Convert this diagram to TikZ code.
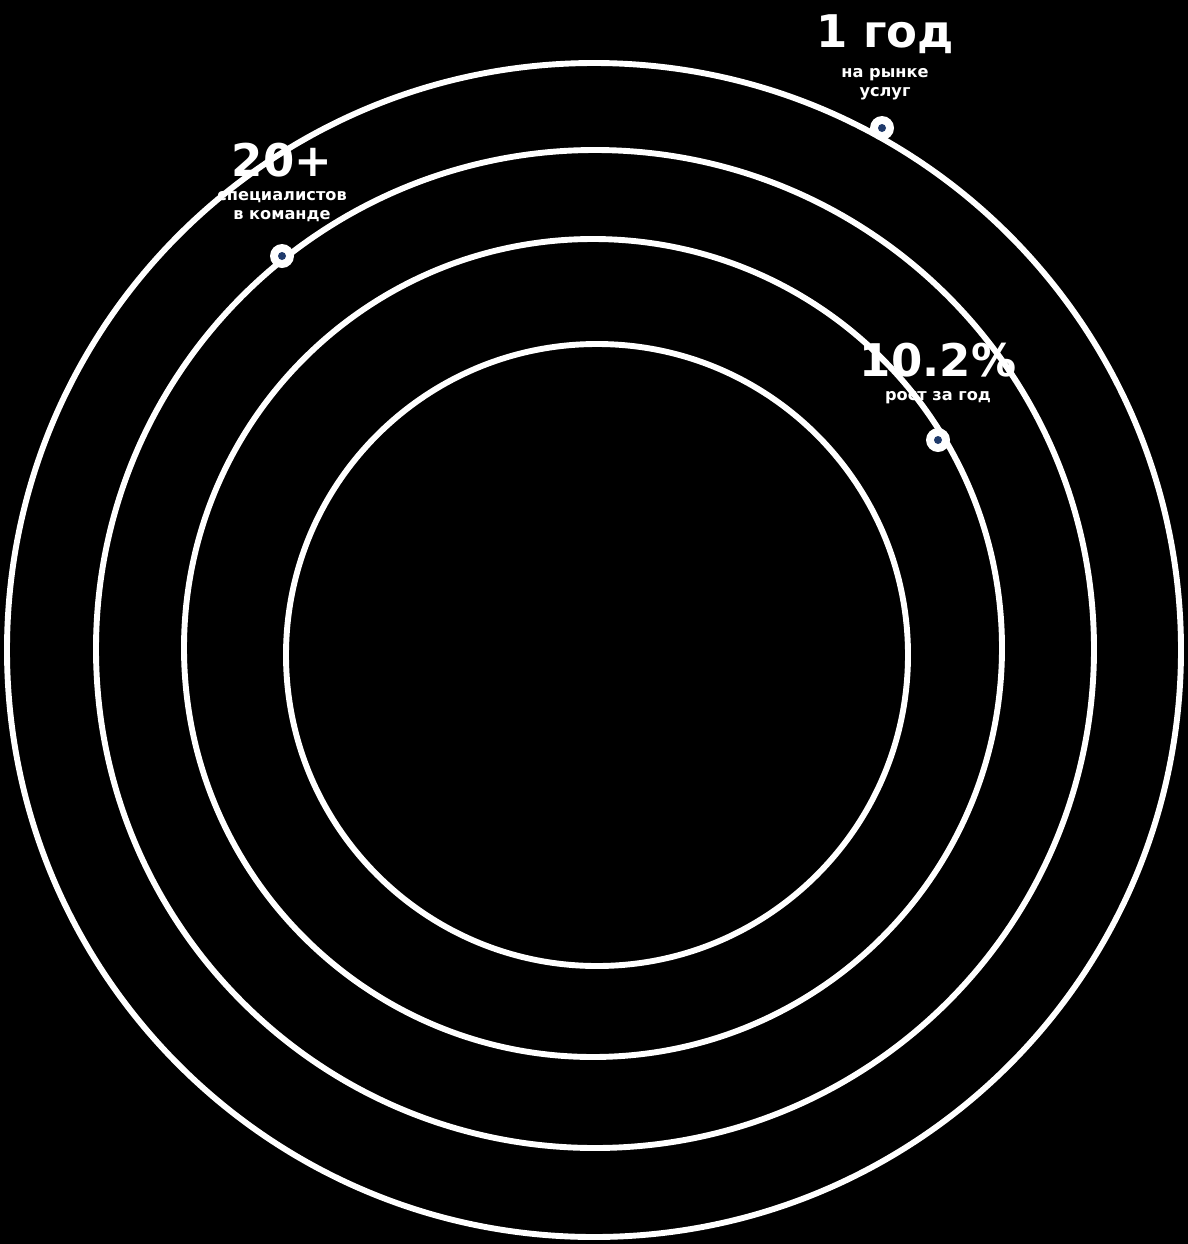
\documentclass[tikz,border=0pt]{standalone}
\usepackage{fontspec}
\setmainfont{DejaVu Sans}
\usepackage{xcolor}
\usetikzlibrary{positioning}

\definecolor{dotblue}{HTML}{1F3A6B}

\tikzset{
    orbit/.style={draw=white, line width=4.2pt},
    bigval/.style={text=white, font=\fontsize{32}{32}\selectfont\bfseries, inner sep=0pt},
    smallcap/.style={text=white, font=\fontsize{11.5}{13.5}\selectfont\bfseries, inner sep=0pt, align=center},
}

\begin{document}
\begin{tikzpicture}[x=0.025cm, y=-0.025cm, line cap=round, line join=round]

    % Background
    \fill[black] (0,0) rectangle (1188,1244);
    \useasboundingbox (0,0) rectangle (1188,1244);

    % Orbits
    \foreach \cx/\cy/\r in {
        594/650/587,
        595/649/499,
        593/648/409,
        597/655/311
    }{
        \draw[orbit] (\cx,\cy) circle (\r);
    }

    % Markers on the orbits
    \foreach \name/\x/\y in {
        mA/882/128,
        mB/282/256,
        mC/938/440
    }{
        \fill[white] (\x,\y) circle (12);
        \fill[dotblue] (\x,\y) circle (4);
        \coordinate (\name) at (\x,\y);
    }

    % Labels
    \node[bigval] (valA) at (885,34) {1 год};
    \node[smallcap, below=10pt of valA] (capA) {на рынке\\услуг};

    \node[bigval] (valB) at (282,160) {20+};
    \node[smallcap, below=10pt of valB] (capB) {специалистов\\в команде};

    \node[bigval] (valC) at (938,360) {10.2\%};
    \node[smallcap, below=10pt of valC] (capC) {рост за год};

\end{tikzpicture}
\end{document}
